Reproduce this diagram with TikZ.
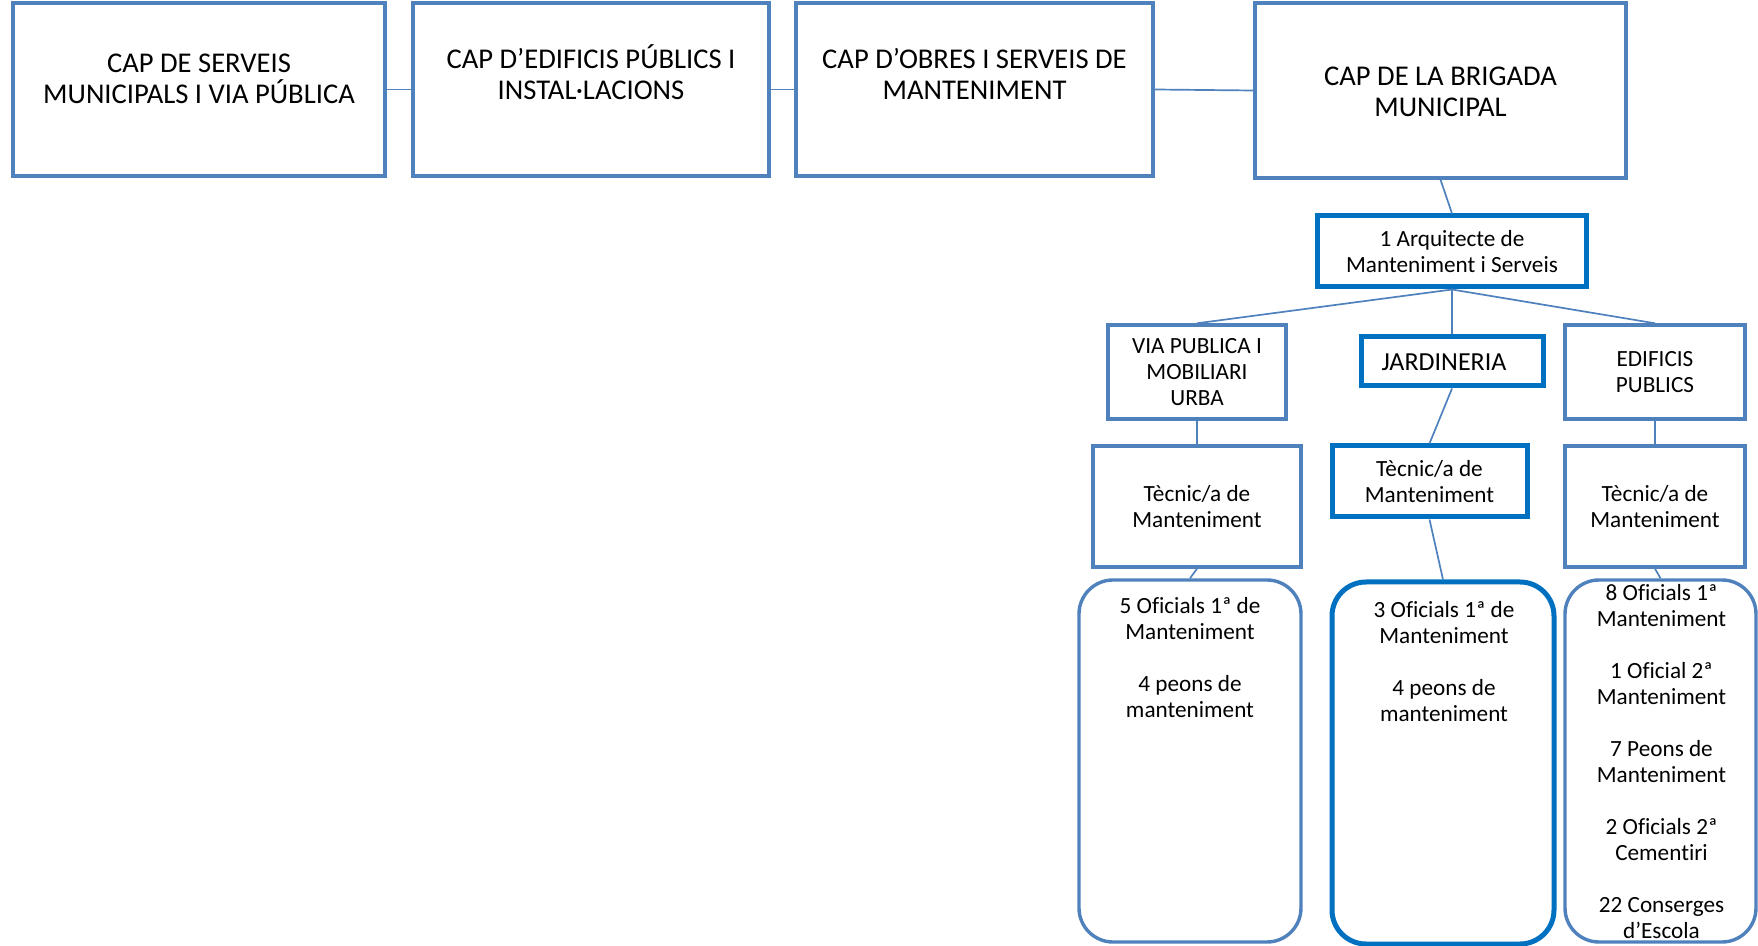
\documentclass[tikz,border=0pt]{standalone}
\usepackage{fontspec}
\setmainfont{Carlito}[Ligatures=NoCommon]
\definecolor{boxblue}{HTML}{4F81BD}
\definecolor{keyblue}{HTML}{0070C0}
\begin{document}
\begin{tikzpicture}[x=0.5pt,y=-0.5pt,
    every node/.style={align=center,inner sep=0pt},
    capbox/.style={draw=boxblue,line width=1.7pt,fill=white},
    keybox/.style={draw=keyblue,line width=2.5pt,fill=white},
    staffbox/.style={rounded corners=17pt},
    bigtxt/.style={font=\fontsize{14.3}{15.5}\selectfont},
    smalltxt/.style={font=\fontsize{11.6}{13}\selectfont},
    link/.style={draw=boxblue,line width=0.85pt}]
    \useasboundingbox (0,0) rectangle (1758,946);
    % caps
    \node[capbox,minimum width=186pt,minimum height=86.5pt] (capserv) at (199,89.5) {};
    \node[capbox,minimum width=178pt,minimum height=86.5pt] (capedif) at (591,89.5) {};
    \node[capbox,minimum width=178.5pt,minimum height=86.5pt] (capobres) at (974.5,89.5) {};
    \node[capbox,minimum width=185.5pt,minimum height=87.5pt] (capbrig) at (1440.5,90.5) {};
    \node[bigtxt] (capservtxt) at (199,79) {CAP DE SERVEIS\\MUNICIPALS I VIA PÚBLICA};
    \node[bigtxt] (capediftxt) at (591,72) {CAP D’EDIFICIS PÚBLICS I\\INSTAL·LACIONS};
    \node[bigtxt] (capobrestxt) at (974.5,74) {CAP D’OBRES I SERVEIS DE\\MANTENIMENT};
    \node[bigtxt] (capbrigtxt) at (1440.5,92) {CAP DE LA BRIGADA\\MUNICIPAL};
    % arquitecte
    \node[keybox,smalltxt,minimum width=134.5pt,minimum height=35.5pt] (arq) at (1452,251.5) {1 Arquitecte de\\Manteniment i Serveis};
    % arees
    \node[capbox,smalltxt,minimum width=89pt,minimum height=47pt] (via) at (1197,372) {VIA PUBLICA I\\MOBILIARI\\URBA};
    \node[keybox,minimum width=91pt,minimum height=24.5pt] (jard) at (1452,361.5) {};
    \node[font=\fontsize{13}{15}\selectfont] (jardtxt) at (1444,362) {JARDINERIA};
    \node[capbox,smalltxt,minimum width=90pt,minimum height=47pt] (edif) at (1655,372) {EDIFICIS\\PUBLICS};
    % tecnics
    \node[capbox,smalltxt,minimum width=104pt,minimum height=60.5pt] (tecvia) at (1197,506.5) {Tècnic/a de\\Manteniment};
    \node[keybox,smalltxt,minimum width=97.5pt,minimum height=35.5pt] (tecjard) at (1429.5,481.5) {Tècnic/a de\\Manteniment};
    \node[capbox,smalltxt,minimum width=90pt,minimum height=60.5pt] (tecedif) at (1655,506.5) {Tècnic/a de\\Manteniment};
    % personal
    \node[capbox,staffbox,minimum width=111pt,minimum height=181pt] (persvia) at (1190,761) {};
    \node[keybox,staffbox,minimum width=111pt,minimum height=181pt] (persjard) at (1443,763) {};
    \node[capbox,staffbox,minimum width=95.5pt,minimum height=181pt] (persedif) at (1660.5,761) {};
    \node[smalltxt] (persviatxt) at (1190,658) {5 Oficials 1ª de\\Manteniment\\[13pt]4 peons de\\manteniment};
    \node[smalltxt] (persjardtxt) at (1444,661.5) {3 Oficials 1ª de\\Manteniment\\[13pt]4 peons de\\manteniment};
    \node[smalltxt] (persediftxt) at (1661.5,762) {8 Oficials 1ª\\Manteniment\\[13pt]1 Oficial 2ª\\Manteniment\\[13pt]7 Peons de\\Manteniment\\[13pt]2 Oficials 2ª\\Cementiri\\[13pt]22 Conserges\\d’Escola};
    % connectors
    \draw[link] (capserv.east) -- (capedif.west);
    \draw[link] (capedif.east) -- (capobres.west);
    \draw[link] (capobres.east) -- (capbrig.west);
    \draw[link] (capbrig.south) -- (arq.north);
    \draw[link] (arq.south) -- (via.north);
    \draw[link] (arq.south) -- (jard.north);
    \draw[link] (arq.south) -- (edif.north);
    \draw[link] (via.south) -- (tecvia.north);
    \draw[link] (jard.south) -- (tecjard.north);
    \draw[link] (edif.south) -- (tecedif.north);
    \draw[link] (tecvia.south) -- (persvia.north);
    \draw[link] (tecjard.south) -- (persjard.north);
    \draw[link] (tecedif.south) -- (persedif.north);
\end{tikzpicture}
\end{document}
